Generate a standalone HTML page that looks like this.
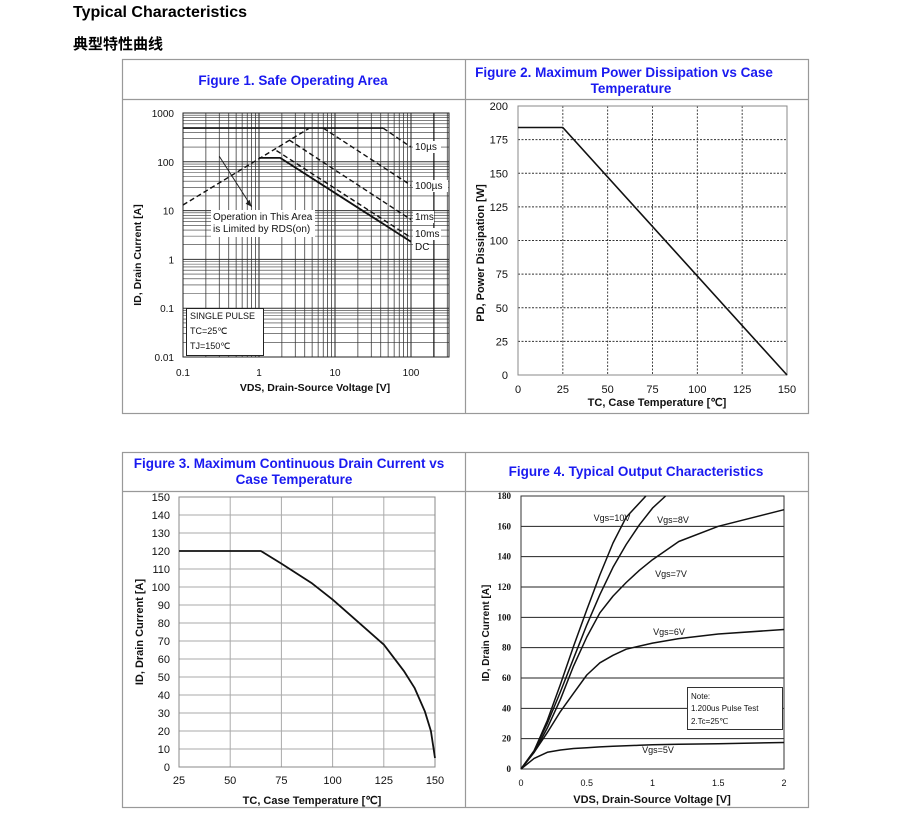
<!DOCTYPE html>
<html><head><meta charset="utf-8">
<style>
html,body{margin:0;padding:0;background:#fff;}
svg{display:block;font-family:"Liberation Sans",sans-serif;}
.h{font-family:"Liberation Sans","Noto Sans CJK SC",sans-serif;font-weight:bold;}
</style></head>
<body>
<svg id="s" width="905" height="817" viewBox="0 0 905 817" xmlns="http://www.w3.org/2000/svg">
<text class="h" x="73" y="17" font-size="16">Typical Characteristics</text>
<text class="h" x="73" y="49" font-size="15">典型特性曲线</text>
<g fill="none" stroke="#999" stroke-width="1.2">
<rect x="122.5" y="59.5" width="686" height="354"/>
<line x1="465.5" y1="59" x2="465.5" y2="413"/>
<line x1="122" y1="99.5" x2="808" y2="99.5"/>
<rect x="122.5" y="452.5" width="686" height="355"/>
<line x1="465.5" y1="452" x2="465.5" y2="807"/>
<line x1="122" y1="491.5" x2="808" y2="491.5"/>
</g>
<g fill="#1a1af0" font-weight="bold" font-size="13.5" text-anchor="middle">
<text x="293" y="85">Figure 1. Safe Operating Area</text>
<text x="624" y="77">Figure 2. Maximum Power Dissipation vs Case</text>
<text x="631" y="93">Temperature</text>
<text x="289" y="468">Figure 3. Maximum Continuous Drain Current vs</text>
<text x="294" y="484">Case Temperature</text>
<text x="636" y="476">Figure 4. Typical Output Characteristics</text>
</g>
<g id="g1"></g>
<g id="g2"></g>
<g id="g3"></g>
<g id="g4"></g>
</svg>
<script>
// ---------- data ----------
// Figure 1 SOA (V, A)
const soaRdsV=[0.1,4.5], soaRdsI=[13,480];
const soa10usSolidV=[0.1,43], soa10usSolidI=[490,490];
const soa10usDashV=[43,100], soa10usDashI=[490,200];
const soa100usV=[7,100], soa100usI=[490,33];
const soa1msV=[2.5,100], soa1msI=[280,6.5];
const soa10msV=[1.7,100], soa10msI=[170,2.8];
const soaDcV=[1,1.9,100], soaDcI=[120,120,2.3];
const soaXTicks=[0.1,1,10,100], soaXLabels=["0.1","1","10","100"];
const soaYTicks=[1000,100,10,1,0.1,0.01], soaYLabels=["1000","100","10","1","0.1","0.01"];
// Figure 2
const pdT=[0,25,150], pdP=[184,184,0];
const pdXTicks=[0,25,50,75,100,125,150], pdYTicks=[0,25,50,75,100,125,150,175,200];
// Figure 3
const idT=[25,65,75,90,100,110,125,135,140,145,148,150];
const idI=[120,120,113,102,93,83,68,53,44,31,20,5];
const idXTicks=[25,50,75,100,125,150], idYTicks=[0,10,20,30,40,50,60,70,80,90,100,110,120,130,140,150];
// Figure 4
const vds10=[0,0.1,0.2,0.3,0.4,0.5,0.6,0.7,0.8,0.95];
const vgs10=[0,12,32,56,81,105,128,149,166,180];
const vds8=[0,0.1,0.2,0.3,0.4,0.5,0.6,0.7,0.8,0.9,1.0,1.1];
const vgs8=[0,12,30,51,73,95,115,133,148,161,172,180];
const vds=[0,0.1,0.2,0.3,0.4,0.5,0.6,0.7,0.8,0.9,1.0,1.2,1.5,2.0];
const vgs7=[0,11,27,46,68,87,103,114,123,131,138,150,160,171];
const vgs6=[0,11,24,38,50,62,70,75,79,81,83,86,89,92];
const vgs5=[0,7,11,12.5,13.5,14,14.6,15,15.3,15.6,16,16.3,16.6,17.5];
const outXTicks=[0,0.5,1,1.5,2], outXLabels=["0","0.5","1","1.5","2"];
const outYTicks=[0,20,40,60,80,100,120,140,160,180];

const NS="http://www.w3.org/2000/svg";
function mk(parent,tag,attrs,name){
  const el=document.createElementNS(NS,tag);
  for(const k in attrs) el.setAttribute(k,attrs[k]);
  
  
  parent.appendChild(el);return el;
}
function txt(parent,x,y,s,name,opt){
  opt=opt||{};
  const t=mk(parent,'text',{x:x,y:y,'font-size':opt.fs||11,'text-anchor':opt.anchor||'middle','font-weight':opt.fw||'normal','font-family':opt.ff||'"Liberation Sans",sans-serif',fill:'#111'},name);
  if(opt.rot) t.setAttribute('transform','rotate(-90 '+x+' '+y+')');
  t.textContent=s;return t;
}
function poly(parent,xs,ys,fx,fy,name,dash,w){
  const pts=xs.slice(0,ys.length).map((v,i)=>fx(v).toFixed(1)+','+fy(ys[i]).toFixed(1)).join(' ');
  const a={points:pts,fill:'none',stroke:'#111','stroke-width':w||1.6,'stroke-linejoin':'round'};
  if(dash) a['stroke-dasharray']=dash;
  return mk(parent,'polyline',a,name);
}
// ---------- Figure 1 ----------
(function(){
  const g=document.getElementById('g1');
  const L=183,R=449,T=113,B=357;
  const fx=v=>L+(Math.log10(v)+1)*76;
  const fy=v=>B-(Math.log10(v)+2)*48.8;
  for(let d=-1;d<=2;d++)for(let m=1;m<=9;m++){const v=m*Math.pow(10,d);const x=fx(v);if(x>R)continue;
    mk(g,'line',{x1:x,y1:T,x2:x,y2:B,stroke:'#222','stroke-width':m==1?1:0.7},'soa-x-grid');}
  for(let d=-2;d<=2;d++)for(let m=1;m<=9;m++){const v=m*Math.pow(10,d);const y=fy(v);if(y<T-0.5)continue;
    mk(g,'line',{x1:L,y1:y,x2:R,y2:y,stroke:'#333','stroke-width':m==1?1:0.6},'soa-y-grid');}
  mk(g,'line',{x1:fx(200),y1:T,x2:fx(200),y2:B,stroke:'#111','stroke-width':1.2},'soa-x-grid');
  mk(g,'rect',{x:L,y:T,width:R-L,height:B-T,fill:'none',stroke:'#222','stroke-width':1},'soa-plot-frame');
  soaXTicks.forEach((v,i)=>txt(g,fx(v),376,soaXLabels[i],'soa-x-tick',{fs:10}));
  soaYTicks.forEach((v,i)=>txt(g,174,fy(v)+4,soaYLabels[i],'soa-y-tick',{anchor:'end',fs:10}));
  txt(g,315,391,'VDS, Drain-Source Voltage [V]','soa-x-axis-title',{fw:'bold',fs:10.5});
  txt(g,141,255,'ID, Drain Current [A]','soa-y-axis-title',{fw:'bold',rot:1,fs:10.5});
  poly(g,soaRdsV,soaRdsI,fx,fy,'soa-rds-limit','5,3',1.4);
  poly(g,soa10usSolidV,soa10usSolidI,fx,fy,'soa-10us-flat',null,1.6);
  poly(g,soa10usDashV,soa10usDashI,fx,fy,'soa-10us-line','5,3',1.4);
  poly(g,soa100usV,soa100usI,fx,fy,'soa-100us-line','5,3',1.4);
  poly(g,soa1msV,soa1msI,fx,fy,'soa-1ms-line','5,3',1.4);
  poly(g,soa10msV,soa10msI,fx,fy,'soa-10ms-line','5,3',1.4);
  poly(g,soaDcV,soaDcI,fx,fy,'soa-dc-line',null,1.8);
  mk(g,'line',{x1:fx(0.3),y1:fy(130),x2:fx(0.8),y2:fy(12),stroke:'#222','stroke-width':1},'soa-arrow');
  mk(g,'polygon',{points:(fx(0.8))+','+(fy(12))+' '+(fx(0.8)-6)+','+(fy(12)-3)+' '+(fx(0.8)-2)+','+(fy(12)-7),fill:'#222'},'soa-arrow-head');
  [['10µs',150],['100µs',189],['1ms',220],['10ms',237],['DC',250]].forEach(a=>{
    mk(g,'rect',{x:413,y:a[1]-9,width:a[0].length*7,height:12,fill:'#fff'},'soa-label-bg');
    txt(g,415,a[1],a[0],'soa-label-'+a[0],{anchor:'start',fs:10});});
  mk(g,'rect',{x:211,y:210,width:104,height:27,fill:'#fff'},'soa-note-bg');
  txt(g,213,220,'Operation in This Area','soa-note',{anchor:'start',fs:10});
  txt(g,213,232,'is Limited by RDS(on)','soa-note-2',{anchor:'start',fs:10});
  mk(g,'rect',{x:186.5,y:308.5,width:77,height:47,fill:'#fff',stroke:'#222'},'soa-legend-box');
  txt(g,190,319,'SINGLE PULSE','soa-legend-1',{anchor:'start',fs:9});
  txt(g,190,334,'TC=25℃','soa-legend-2',{anchor:'start',fs:9});
  txt(g,190,349,'TJ=150℃','soa-legend-3',{anchor:'start',fs:9});
})();
// ---------- Figure 2 ----------
(function(){
  const g=document.getElementById('g2');
  const L=518,R=787,T=106,B=375;
  const fx=v=>L+v/150*(R-L), fy=v=>B-v/200*(B-T);
  pdXTicks.forEach(v=>{mk(g,'line',{x1:fx(v),y1:T,x2:fx(v),y2:B,stroke:'#333','stroke-width':0.9,'stroke-dasharray':'2,1.5'},'pd-x-grid');
    txt(g,fx(v),393,String(v),'pd-x-tick');});
  pdYTicks.forEach(v=>{mk(g,'line',{x1:L,y1:fy(v),x2:R,y2:fy(v),stroke:'#333','stroke-width':0.9,'stroke-dasharray':'2,1.5'},'pd-y-grid');
    txt(g,508,fy(v)+4,String(v),'pd-y-tick',{anchor:'end'});});
  mk(g,'rect',{x:L,y:T,width:R-L,height:B-T,fill:'none',stroke:'#888','stroke-width':1},'pd-plot-frame');
  poly(g,pdT,pdP,fx,fy,'pd-line',null,1.6);
  txt(g,657,406,'TC, Case Temperature [℃]','pd-x-axis-title',{fw:'bold'});
  txt(g,484,253,'PD, Power Dissipation [W]','pd-y-axis-title',{fw:'bold',rot:1});
})();
// ---------- Figure 3 ----------
(function(){
  const g=document.getElementById('g3');
  const L=179,R=435,T=497,B=767;
  const fx=v=>L+(v-25)/125*(R-L), fy=v=>B-v/150*(B-T);
  idXTicks.forEach(v=>{mk(g,'line',{x1:fx(v),y1:T,x2:fx(v),y2:B,stroke:'#aaa','stroke-width':1},'id-x-grid');
    txt(g,fx(v),784,String(v),'id-x-tick');});
  idYTicks.forEach(v=>{mk(g,'line',{x1:L,y1:fy(v),x2:R,y2:fy(v),stroke:'#aaa','stroke-width':0.9},'id-y-grid');
    txt(g,170,fy(v)+4,String(v),'id-y-tick',{anchor:'end'});});
  mk(g,'rect',{x:L,y:T,width:R-L,height:B-T,fill:'none',stroke:'#888','stroke-width':1},'id-plot-frame');
  poly(g,idT,idI,fx,fy,'id-line',null,1.8);
  txt(g,312,804,'TC, Case Temperature [℃]','id-x-axis-title',{fw:'bold'});
  txt(g,143,632,'ID, Drain Current [A]','id-y-axis-title',{fw:'bold',rot:1});
})();
// ---------- Figure 4 ----------
(function(){
  const g=document.getElementById('g4');
  const L=521,R=784,T=496,B=769;
  const fx=v=>L+v/2*(R-L), fy=v=>B-v/180*(B-T);
  outYTicks.forEach(v=>{mk(g,'line',{x1:L,y1:fy(v),x2:R,y2:fy(v),stroke:'#222','stroke-width':1},'out-y-grid');
    txt(g,511,fy(v)+3,String(v),'out-y-tick',{anchor:'end',fs:9,fw:'bold',ff:'"Liberation Serif",serif'});});
  outXTicks.forEach((v,i)=>txt(g,fx(v),786,outXLabels[i],'out-x-tick',{fs:9}));
  mk(g,'rect',{x:L,y:T,width:R-L,height:B-T,fill:'none',stroke:'#333','stroke-width':1},'out-plot-frame');
  poly(g,vds10,vgs10,fx,fy,'vgs10-line',null,1.5);
  poly(g,vds8,vgs8,fx,fy,'vgs8-line',null,1.5);
  poly(g,vds,vgs7,fx,fy,'vgs7-line',null,1.5);
  poly(g,vds,vgs6,fx,fy,'vgs6-line',null,1.5);
  poly(g,vds,vgs5,fx,fy,'vgs5-line',null,1.5);
  txt(g,612,521,'Vgs=10V','vgs10-label',{fs:9});
  txt(g,673,523,'Vgs=8V','vgs8-label',{fs:9});
  txt(g,671,577,'Vgs=7V','vgs7-label',{fs:9});
  txt(g,669,635,'Vgs=6V','vgs6-label',{fs:9});
  txt(g,658,753,'Vgs=5V','vgs5-label',{fs:9});
  mk(g,'rect',{x:687.5,y:687.5,width:95,height:42,fill:'#fff',stroke:'#333'},'out-note-box');
  txt(g,691,699,'Note:','out-note-1',{anchor:'start',fs:8});
  txt(g,691,711,'1.200us Pulse Test','out-note-2',{anchor:'start',fs:8});
  txt(g,691,724,'2.Tc=25℃','out-note-3',{anchor:'start',fs:8});
  txt(g,652,803,'VDS, Drain-Source Voltage [V]','out-x-axis-title',{fw:'bold'});
  txt(g,489,633,'ID, Drain Current [A]','out-y-axis-title',{fw:'bold',rot:1,fs:10});
})();
</script>
</body></html>
